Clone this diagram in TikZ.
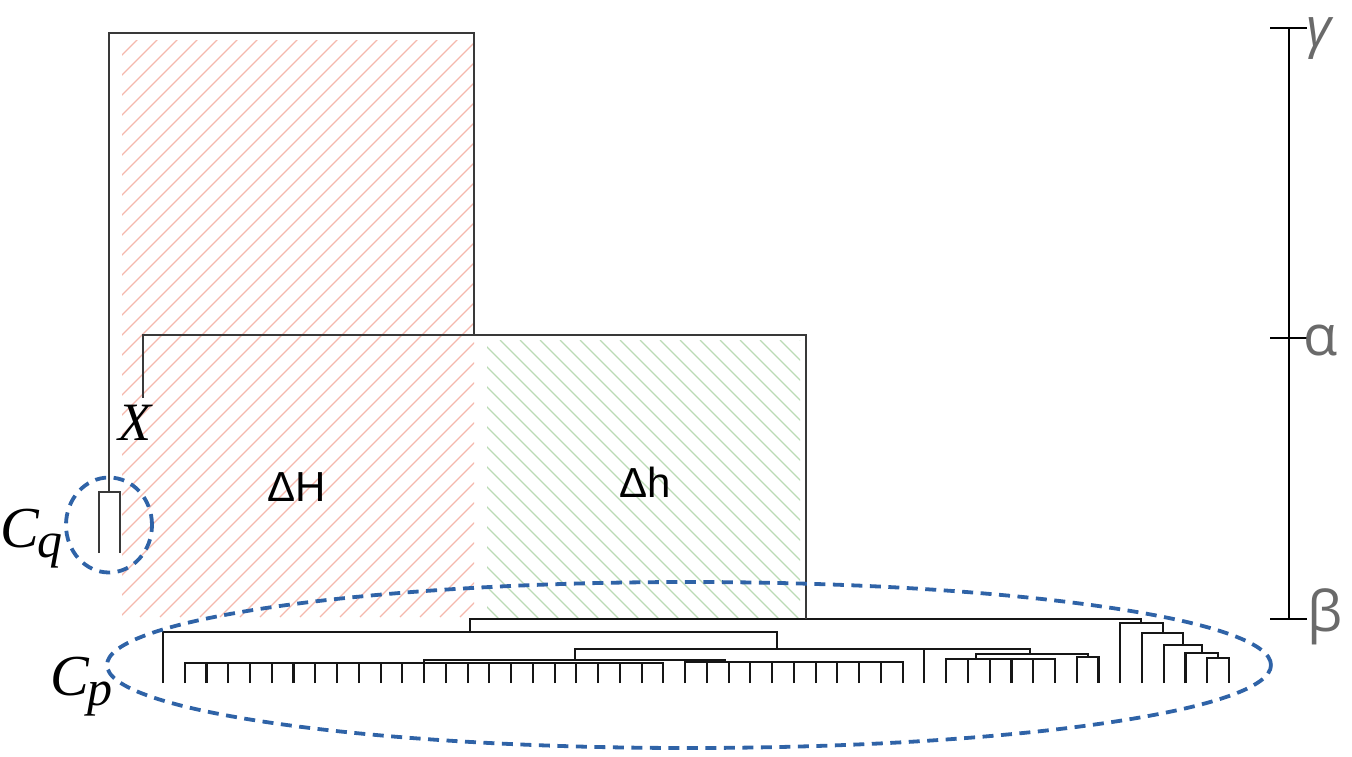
\documentclass[tikz,border=0pt]{standalone}
\usepackage{fontspec}
\setmainfont{Liberation Serif}
\newfontfamily\lsans{Liberation Sans}
\newfontfamily\osans{Open Sans}
\usetikzlibrary{shapes.geometric}
\definecolor{hatchred}{HTML}{F5B8AD}
\definecolor{hatchgreen}{HTML}{BBDAB5}
\definecolor{dashblue}{HTML}{2F63A7}
\definecolor{labelgray}{HTML}{6A6A6A}
\definecolor{linec}{HTML}{161616}
\begin{document}
\begin{tikzpicture}[x=1pt,y=-1pt,
  dend/.style={draw=linec,line width=2.1pt},
  boxline/.style={draw=linec!85,line width=1.9pt},
  hatchR/.style={draw=hatchred,line width=1.1pt},
  hatchG/.style={draw=hatchgreen,line width=1.1pt},
  bluedash/.style={draw=dashblue,line width=3.8pt,dash pattern=on 11pt off 7.5pt},
  scalebar/.style={draw=black,line width=1.3pt},
  greek/.style={text=labelgray,inner sep=0pt,anchor=base west,font=\osans\fontsize{56}{56}\selectfont},
  mathlab/.style={inner sep=0pt,anchor=base west,font=\itshape\fontsize{58}{58}\selectfont},
  deltalab/.style={inner sep=0pt,font=\lsans\fontsize{42}{42}\selectfont}]
\useasboundingbox (0,0) rectangle (1352,756);

% hatching
\begin{scope}
  \clip (122,40) rectangle (474,617);
  \foreach \k in {0,...,47} \draw[hatchR] ({-460+20*\k},617) -- ++(600,-600);
\end{scope}
\begin{scope}
  \clip (487,340) rectangle (800,617);
  \foreach \k in {0,...,31} \draw[hatchG] ({200+20*\k},340) -- ++(300,300);
\end{scope}

% leaves
\foreach \i in {0,...,49} \coordinate (L\i) at ({163+21.755*\i},683);

% cluster A (leaves 1..23)
\coordinate (A) at (424,663);
\draw[dend] (L1) |- (A) -| (L23);
\foreach \i in {2,...,22} \draw[dend] (L\i) -- (L\i |- A);
% cluster B (leaves 24..34)
\coordinate (B) at (725,662);
\draw[dend] (L24) |- (B) -| (L34);
\foreach \i in {25,...,33} \draw[dend] (L\i) -- (L\i |- B);
\coordinate (N575) at (575,660);
\draw[dend] (A) |- (N575) -| (B);
% right middle group
\coordinate (N976) at (976,659);
\draw[dend] (L36) |- (N976) -| (L41);
\foreach \i in {37,...,40} \draw[dend] (L\i) -- (L\i |- N976);
\coordinate (N1088) at (1088,657);
\draw[dend] (L42) |- (N1088) -| (L43);
\coordinate (N1030) at (1030,654);
\draw[dend] (N976) |- (N1030) -| (N1088);
\coordinate (N978) at (978,649);
\draw[dend] (L35) |- (N978) -| (N1030);
\coordinate (N777) at (777,649);
\draw[dend] (N575) |- (N777) -| (N978);
\coordinate (N470) at (470,632);
\draw[dend] (L0) |- (N470) -| (N777);
% staircase
\coordinate (S1218) at (1218,658);
\draw[dend] (L48) |- (S1218) -| (L49);
\coordinate (S1202) at (1202,653);
\draw[dend] (L47) |- (S1202) -| (S1218);
\coordinate (S1183) at (1183,645);
\draw[dend] (L46) |- (S1183) -| (S1202);
\coordinate (S1163) at (1163,633);
\draw[dend] (L45) |- (S1163) -| (S1183);
\coordinate (S1141) at (1141,623);
\draw[dend] (L44) |- (S1141) -| (S1163);
% root
\coordinate (R) at (806,619);
\draw[dend] (N470) |- (R) -| (S1141);
% box levels
\coordinate (Xend) at (143,398);
\coordinate (Bx) at (474,335);
\draw[boxline] (Xend) |- (Bx) -| (R);
\coordinate (Cqtop) at (109,492);
\coordinate (T) at (291,33);
\draw[boxline] (Cqtop) |- (T) -| (Bx);
\coordinate (Cq1) at (99,553);
\coordinate (Cq2) at (120,553);
\draw[boxline] (Cq1) |- (Cqtop) -| (Cq2);

% dashed groups
\node[ellipse,bluedash,inner sep=0pt,minimum width=1164pt,minimum height=166pt] (cp) at (689,665) {};
\node[ellipse,bluedash,inner sep=0pt,minimum width=86pt,minimum height=95pt] (cq) at (109,525) {};

% scale bar
\coordinate (sTop) at (1289,28);
\coordinate (sMid) at (1289,338);
\coordinate (sBot) at (1289,619);
\draw[scalebar] (sTop) -- (sBot);
\draw[scalebar] ([xshift=-19pt]sTop) -- ([xshift=18pt]sTop);
\draw[scalebar] ([xshift=-19pt]sMid) -- ([xshift=18pt]sMid);
\draw[scalebar] ([xshift=-19pt]sBot) -- ([xshift=18pt]sBot);

% labels
\node[greek,font=\osans\itshape\fontsize{54}{54}\selectfont] (glab) at (1306,46) {γ};
\node[greek] (alab) at (1303,355) {α};
\node[greek] (blab) at (1307,631) {β};
\node[deltalab] (dH) at (297,487) {ΔH};
\node[deltalab] (dh) at (645,482) {Δh};
\node[mathlab,font=\itshape\fontsize{54}{54}\selectfont] (xlab) at (118,440) {X};
\node[mathlab] (cqlab) at (0,547) {C\kern-1pt\raisebox{-10pt}{\fontsize{50}{50}\selectfont q}};
\node[mathlab] (cplab) at (50,695) {C\kern-1pt\raisebox{-10pt}{\fontsize{50}{50}\selectfont p}};
\end{tikzpicture}
\end{document}
